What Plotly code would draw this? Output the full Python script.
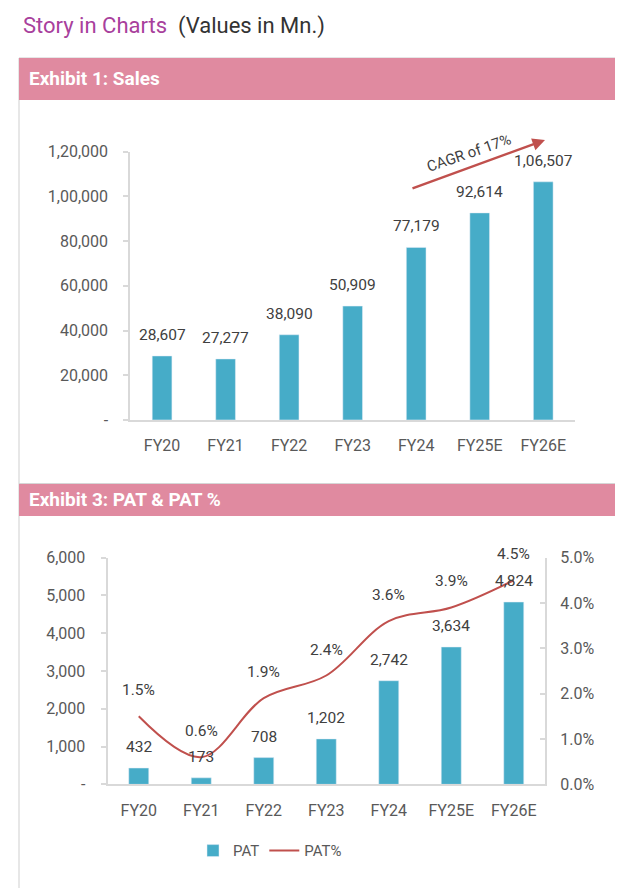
"""Story in Charts: Sales and PAT / PAT% exhibits (values in Mn.)."""

import plotly.graph_objects as go

# page body margin; figure sized to sit inside the window
OFF = 8
W, H = 623 - 2 * OFF, 896 - 2 * OFF
# vertical calibration between figure pixels and the captured picture
Y0, YS = 16.0, 0.9786

years = ["FY20", "FY21", "FY22", "FY23", "FY24", "FY25E", "FY26E"]
sales = [28607, 27277, 38090, 50909, 77179, 92614, 106507]
pat = [432, 173, 708, 1202, 2742, 3634, 4824]
pat_pct = [0.015, 0.006, 0.019, 0.024, 0.036, 0.039, 0.045]

sales_ticks = [0, 20000, 40000, 60000, 80000, 100000, 120000]
sales_ticktext = ["-", "20,000", "40,000", "60,000", "80,000", "1,00,000", "1,20,000"]
pat_ticks = [0, 1000, 2000, 3000, 4000, 5000, 6000]
pat_ticktext = ["-", "1,000", "2,000", "3,000", "4,000", "5,000", "6,000"]
pct_ticks = [0, 0.01, 0.02, 0.03, 0.04, 0.05]
pct_ticktext = ["0.0%", "1.0%", "2.0%", "3.0%", "4.0%", "5.0%"]

BAR = "#46acc8"
RED = "#c0504d"
PINK = "#e08aa0"
AXIS = "#d9d9d9"
TICK = "#595959"
LABEL = "#404040"
FONT = "Roboto"


def inr(n):
    """Indian digit grouping, e.g. 106507 -> 1,06,507."""
    s = str(int(n))
    if len(s) <= 3:
        return s
    head, tail = s[:-3], s[-3:]
    groups = []
    while len(head) > 2:
        groups.insert(0, head[-2:])
        head = head[:-2]
    if head:
        groups.insert(0, head)
    return ",".join(groups) + "," + tail


# screen pixel -> paper coordinate
def px(x):
    return (x - OFF) / W


def py(y):
    return 1 - ((y - Y0) / YS) / H


fig = go.Figure()

fig.add_trace(go.Bar(x=years, y=sales, marker_color=BAR, width=0.31,
                     xaxis="x", yaxis="y", showlegend=False, hoverinfo="skip"))
fig.add_trace(go.Bar(x=years, y=pat, marker_color=BAR, width=0.32, name="PAT",
                     xaxis="x2", yaxis="y2"))
fig.add_trace(go.Scatter(x=years, y=pat_pct, mode="lines", name="PAT%",
                         line=dict(color=RED, width=2, shape="spline", smoothing=1.0),
                         xaxis="x2", yaxis="y3"))

lbl_font = dict(size=15.5, color=LABEL)
ann = []
# data labels
for yr, v in zip(years, sales):
    ann.append(dict(x=yr, y=v, xref="x", yref="y", text=inr(v), showarrow=False,
                    yanchor="middle", yshift=21, font=lbl_font))
for yr, v in zip(years, pat):
    ann.append(dict(x=yr, y=v, xref="x2", yref="y2", text=inr(v), showarrow=False,
                    yanchor="middle", yshift=21, font=lbl_font))
for yr, v in zip(years, pat_pct):
    ann.append(dict(x=yr, y=v, xref="x2", yref="y3", text=f"{v * 100:.1f}%",
                    showarrow=False, yanchor="middle", yshift=26, font=lbl_font))

# CAGR arrow
ann.append(dict(x=px(545), y=py(139), xref="paper", yref="paper", text="",
                showarrow=True, ax=-134, ay=49, arrowhead=2, arrowsize=1,
                arrowwidth=2.5, arrowcolor=RED, standoff=0))
ann.append(dict(x=px(469), y=py(152), xref="paper", yref="paper",
                xanchor="center", yanchor="middle",
                text="CAGR of 17%", showarrow=False, textangle=-19,
                font=dict(size=15, color=LABEL)))

# titles
ann.append(dict(x=px(21), y=py(25), xref="paper", yref="paper", xanchor="left",
                yanchor="middle", showarrow=False,
                text="<span style='color:#a8409c'>Story in Charts</span>"
                     "  (Values in Mn.)",
                font=dict(size=22, color="#333333")))
ann.append(dict(x=px(27), y=py(78), xref="paper", yref="paper", xanchor="left",
                yanchor="middle", showarrow=False, text="<b>Exhibit 1: Sales</b>",
                font=dict(size=19, color="white")))
ann.append(dict(x=px(27), y=py(499), xref="paper", yref="paper", xanchor="left",
                yanchor="middle", showarrow=False, text="<b>Exhibit 3: PAT & PAT %</b>",
                font=dict(size=19, color="white")))

shapes = [
    # panel outlines
    dict(type="rect", xref="paper", yref="paper", x0=px(19), x1=px(640),
         y0=py(483), y1=py(57), line=dict(color="#cfcfcf", width=1),
         fillcolor="rgba(0,0,0,0)", layer="below"),
    dict(type="rect", xref="paper", yref="paper", x0=px(19), x1=px(640),
         y0=py(960), y1=py(483), line=dict(color="#cfcfcf", width=1),
         fillcolor="rgba(0,0,0,0)", layer="below"),
    # header bands
    dict(type="rect", xref="paper", yref="paper", x0=px(19), x1=px(640),
         y0=py(99), y1=py(57), line=dict(width=0), fillcolor=PINK, layer="below"),
    dict(type="rect", xref="paper", yref="paper", x0=px(19), x1=px(640),
         y0=py(515), y1=py(483), line=dict(width=0), fillcolor=PINK, layer="below"),
]

xcommon = dict(showline=True, linecolor=AXIS, linewidth=2, showgrid=False,
               ticks="", ticklabelstandoff=10, type="category",
               tickfont=dict(size=16, color=TICK), fixedrange=True)
ycommon = dict(showline=True, linecolor=AXIS, linewidth=2, showgrid=False,
               zeroline=False, ticks="outside", ticklen=5, tickcolor=AXIS,
               tickwidth=1.5, tickfont=dict(size=16, color=TICK),
               tickmode="array", fixedrange=True)

fig.update_layout(
    width=W, height=H,
    margin=dict(l=0, r=0, t=0, b=0),
    paper_bgcolor="white", plot_bgcolor="rgba(0,0,0,0)",
    font=dict(family=FONT, color=TICK),
    xaxis=dict(domain=[px(130.3), px(575)], anchor="y", **xcommon),
    yaxis=dict(domain=[py(419), py(150.7)], anchor="x", range=[0, 120000],
               tickvals=sales_ticks, ticktext=sales_ticktext,
               ticklabelstandoff=12, **ycommon),
    xaxis2=dict(domain=[px(107.5), px(545)], anchor="y2", **xcommon),
    yaxis2=dict(domain=[py(783.5), py(556.7)], anchor="x2", range=[0, 6000],
                tickvals=pat_ticks, ticktext=pat_ticktext,
                ticklabelstandoff=12, **ycommon),
    yaxis3=dict(overlaying="y2", side="right", anchor="x2", range=[0, 0.05],
                tickvals=pct_ticks, ticktext=pct_ticktext, showline=True,
                linecolor=AXIS, linewidth=2, showgrid=False, zeroline=False,
                ticks="inside", ticklen=5, tickcolor=AXIS, tickwidth=1.5,
                tickfont=dict(size=16, color=TICK), tickmode="array",
                ticklabelstandoff=10, fixedrange=True),
    legend=dict(orientation="h", x=px(270), xanchor="center", y=py(850),
                yanchor="middle", font=dict(size=15, color=TICK),
                bgcolor="rgba(0,0,0,0)"),
    annotations=ann,
    shapes=shapes,
)

fig.write_html("out.html")
